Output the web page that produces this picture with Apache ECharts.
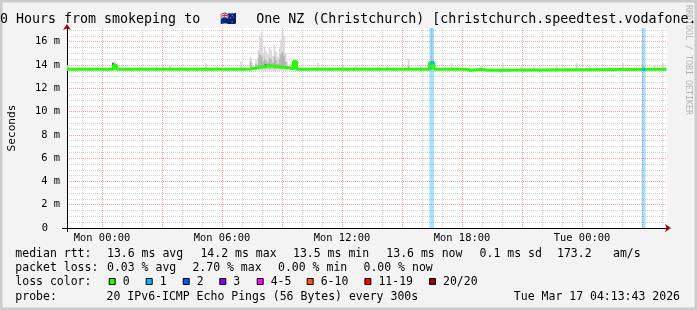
<!DOCTYPE html>
<html><head><meta charset="utf-8">
<script src="https://cdn.jsdelivr.net/npm/echarts@6/dist/echarts.min.js"></script>
<style>html,body{margin:0;padding:0;background:#f3f3f3}#c{width:697px;height:310px}</style>
</head><body><div id="c"></div><script>
// ---------- data (time in hours relative to Mon 00:00, values in ms) ----------
const STEP = 1 / 12;                 // one 300 s step
const T_START = -1.75, T_END = 28.25;
const Y_MAX = 17.18;

const xLabelValues = [0, 6, 12, 18, 24];
const xLabelTexts = ['Mon 00:00', 'Mon 06:00', 'Mon 12:00', 'Mon 18:00', 'Tue 00:00'];
const xMajorGrid = [0, 3, 6, 9, 12, 15, 18, 21, 24, 27];
const xMinorGrid = [-1, 1, 2, 4, 5, 7, 8, 10, 11, 13, 14, 16, 17, 19, 20, 22, 23, 25, 26, 28];
const yLabelValues = [0, 2, 4, 6, 8, 10, 12, 14, 16];
const yMinorGrid = [0.5, 1, 1.5, 2.5, 3, 3.5, 4.5, 5, 5.5, 6.5, 7, 7.5, 8.5, 9, 9.5, 10.5, 11, 11.5,
  12.5, 13, 13.5, 14.5, 15, 15.5, 16.5, 17];

// median rtt (step changes): [time, ms]
const medianPts = [[-1.75, 13.63], [0.57, 13.98], [0.73, 13.63], [7.05, 13.66], [7.4, 13.77], [7.75, 13.85],
  [8.05, 13.88], [8.18, 13.95], [8.3, 13.88], [8.75, 13.8], [9.05, 13.74], [9.4, 13.67], [9.57, 14.3],
  [9.73, 13.63], [16.37, 14.2], [16.6, 13.63], [18.25, 13.55], [18.4, 13.63], [19.08, 13.55],
  [19.25, 13.63], [28.23, 13.63]];

// median steps with packet loss: [t0, t1, ms, lost pings]
const lossMedian = [[16.42, 16.6, 14.2, 1], [27.0, 27.17, 13.63, 1]];
// loss background bars: [t0, t1]
const lossBars = [[16.37, 16.6], [26.99, 27.18]];

// smoke (ping spread) per step: [time, low, high]
const smokeLight = [[-1.7, 13.5, 14.0], [0.65, 13.5, 14.35], [2.7, 13.5, 13.86], [3.05, 13.5, 13.8],
  [3.4, 13.5, 13.94], [4.75, 13.5, 13.85], [5.2, 13.5, 14.15], [5.75, 13.5, 13.85], [6.95, 13.5, 14.3],
  [7.43, 13.5, 14.7], [7.5, 13.5, 14.2], [7.7, 13.5, 14.4], [7.83, 13.5, 15.3], [7.9, 13.5, 16.4],
  [7.98, 13.5, 16.8], [8.05, 13.5, 15.0], [8.13, 13.5, 15.6], [8.2, 13.5, 15.2], [8.3, 13.5, 14.9],
  [8.38, 13.5, 15.5], [8.45, 13.5, 15.3], [8.55, 13.5, 14.8], [8.63, 13.5, 15.7], [8.7, 13.5, 15.2],
  [8.8, 13.5, 14.7], [8.88, 13.5, 15.4], [8.95, 13.5, 16.2], [9.03, 13.5, 16.95], [9.1, 13.5, 16.5],
  [9.18, 13.5, 15.0], [9.25, 13.5, 14.3], [9.4, 13.5, 14.1], [9.65, 13.5, 14.45], [10.8, 13.5, 14.2],
  [12.05, 13.5, 13.94], [12.7, 13.5, 14.0], [13.8, 13.5, 13.86], [14.25, 13.5, 13.86], [15.33, 13.5, 14.5],
  [15.95, 13.5, 14.0], [16.48, 13.5, 17.18], [17.48, 13.5, 14.15], [18.38, 13.5, 13.86], [18.95, 13.5, 13.9],
  [20.05, 13.5, 14.15], [20.95, 13.5, 13.86], [21.6, 13.5, 13.86], [22.73, 13.5, 14.0], [23.73, 13.5, 14.15],
  [24.4, 13.5, 13.86], [25.33, 13.5, 13.86], [26.05, 13.5, 14.15], [27.08, 13.5, 14.0], [27.63, 13.5, 14.0],
  [28.05, 13.5, 14.15]];
const smokeMid = [[0.65, 13.6, 14.05], [7.43, 13.6, 14.3], [7.7, 13.6, 14.1], [7.83, 13.7, 14.6],
  [7.9, 13.7, 14.9], [7.98, 13.7, 14.7], [8.05, 13.7, 14.3], [8.13, 13.7, 14.5], [8.2, 13.7, 14.4],
  [8.3, 13.7, 14.2], [8.38, 13.7, 14.6], [8.45, 13.7, 14.5], [8.55, 13.7, 14.2], [8.63, 13.7, 14.7],
  [8.7, 13.7, 14.4], [8.8, 13.7, 14.1], [8.88, 13.7, 14.5], [8.95, 13.7, 14.9], [9.03, 13.7, 15.1],
  [9.1, 13.7, 14.8], [9.18, 13.7, 14.3], [9.65, 13.6, 14.1], [15.33, 13.6, 13.9], [16.48, 13.6, 14.4],
  [19.95, 13.38, 13.6], [20.1, 13.4, 13.6], [20.25, 13.42, 13.6], [20.4, 13.45, 13.6]];
const smokeDark = [[0.55, 13.63, 14.2], [8.18, 13.8, 14.06], [9.55, 13.6, 14.3], [16.4, 13.6, 14.25]];

// loss color legend
const lossLabels = ['0', '1', '2', '3', '4-5', '6-10', '11-19', '20/20'];
const lossColors = ['#26ff00', '#00b8ff', '#0059ff', '#7e00ff', '#ff00ff', '#ff5500', '#ff0000', '#a10000'];

// legend texts
const titlePre = '30 Hours from smokeping to ';
const titleFlag = '\u{1F1F3}\u{1F1FF}';
const titlePost = ' One NZ (Christchurch) [christchurch.speedtest.vodafone.co.nz]';
const rttStats = ['13.6 ms avg', '14.2 ms max', '13.5 ms min', '13.6 ms now', '0.1 ms sd', '173.2', 'am/s'];
const lossStats = ['0.03 % avg', '2.70 % max', '0.00 % min', '0.00 % now'];
const probeText = '20 IPv6-ICMP Echo Pings (56 Bytes) every 300s';
const stampText = 'Tue Mar 17 04:13:43 2026';

// ---------- layout ----------
const MONO = '"DejaVu Sans Mono", monospace';
const rttX = [107, 200.4, 293, 386.3, 479.6, 557, 613];
const lossX = [107, 192.4, 278, 363.5];
const boxX = [108.7, 145.7, 182.7, 219.3, 256.7, 306.7, 364.4, 429];
const rowY = [254, 268.2, 282.4, 296.6];

const chart = echarts.init(document.getElementById('c'), null, { renderer: 'canvas' });

function smokeSeries(data, color) {
  return {
    type: 'custom', xAxisIndex: 1, yAxisIndex: 1, clip: true, data: data, z: 2,
    renderItem: function (params, api) {
      const t = api.value(0), lo = api.value(1), hi = api.value(2);
      const p0 = api.coord([t - STEP / 2, hi]);
      const p1 = api.coord([t + STEP / 2, lo]);
      return { type: 'rect', shape: { x: p0[0], y: p0[1], width: p1[0] - p0[0], height: p1[1] - p0[1] },
        style: { fill: color } };
    }
  };
}

const txt = (x, y, s, extra) => Object.assign({ type: 'text', x: x, y: y, silent: true,
  style: Object.assign({ text: s, font: '11.5px ' + MONO, fill: '#000', verticalAlign: 'middle' }, extra || {}) });

const graphics = [
  { type: 'rect', shape: { x: 0, y: 0, width: 697, height: 310 }, style: { fill: 'none', stroke: '#cccccc', lineWidth: 5 }, silent: true },
  { type: 'text', x: 688, y: 60, rotation: -Math.PI / 2, silent: true,
    style: { text: 'RRDTOOL / TOBI OETIKER', font: '8.3px ' + MONO, fill: '#b4b4b4', align: 'center', verticalAlign: 'middle' } },
  txt(15.3, rowY[0], 'median rtt:'),
  txt(15.3, rowY[1], 'packet loss:'),
  txt(15.3, rowY[2], 'loss color:'),
  txt(15.3, rowY[3], 'probe:'),
  txt(106.6, rowY[3], probeText),
  txt(680, rowY[3], stampText, { align: 'right' })
];
rttStats.forEach((s, i) => graphics.push(txt(rttX[i], rowY[0], s)));
lossStats.forEach((s, i) => graphics.push(txt(lossX[i], rowY[1], s)));
lossLabels.forEach((s, i) => {
  graphics.push({ type: 'rect', silent: true, shape: { x: boxX[i] + 0.5, y: 278.5, width: 6, height: 6 },
    style: { fill: lossColors[i], stroke: '#000', lineWidth: 1 } });
  graphics.push(txt(boxX[i] + 14, rowY[2], s));
});

const hidden = { axisLabel: { show: false }, splitLine: { show: false } };

const option = {
  backgroundColor: '#f3f3f3',
  animation: false,
  title: { text: titlePre + '{f|' + titleFlag + '}' + titlePost, left: -8, top: 13, padding: 0,
    textStyle: { fontFamily: MONO, fontSize: 13.3, fontWeight: 'normal', color: '#000',
      rich: { f: { fontSize: 13.3, color: '#000', padding: [0, 11, 0, 12] } } } },
  grid: { left: 67, right: 30, top: 28, bottom: 82, show: true, backgroundColor: '#ffffff', borderWidth: 0,
    outerBoundsMode: 'none', containLabel: false },
  xAxis: [
    { type: 'value', min: T_START, max: T_END, position: 'bottom', z: 0,
      axisLine: { show: true, onZero: false, lineStyle: { color: '#a00000', width: 1 },
        symbol: ['none', 'arrow'], symbolSize: [6, 6], symbolOffset: [0, 4] },
      axisTick: { show: false, customValues: xMinorGrid }, axisLabel: { show: false },
      splitLine: { show: true, lineStyle: { color: '#d2d2d2', width: 1, type: [1, 1] } } },
    { type: 'value', min: T_START, max: T_END, position: 'bottom', z: 1,
      axisLine: { show: true, onZero: false, lineStyle: { color: '#000', width: 1 } },
      axisTick: { show: false, customValues: xMajorGrid },
      axisLabel: { customValues: xLabelValues, formatter: v => xLabelTexts[xLabelValues.indexOf(v)],
        margin: 5, fontFamily: MONO, fontSize: 10.4, color: '#000' },
      splitLine: { show: true, lineStyle: { color: '#f2a0a0', width: 1, type: [1, 1] } } },
    Object.assign({ type: 'value', min: T_START, max: T_END, position: 'bottom', z: 1,
      axisLine: { show: false, onZero: false },
      axisTick: { show: true, customValues: [T_START], length: 4, lineStyle: { color: '#000', width: 1 } } }, hidden)
  ],
  yAxis: [
    { type: 'value', min: 0, max: Y_MAX, position: 'left', z: 0,
      axisLine: { show: true, onZero: false, lineStyle: { color: '#a00000', width: 1 },
        symbol: ['none', 'arrow'], symbolSize: [6, 6], symbolOffset: [0, 4] },
      axisTick: { show: false, customValues: yMinorGrid }, axisLabel: { show: false },
      splitLine: { show: true, lineStyle: { color: '#d2d2d2', width: 1, type: [1, 1] } } },
    { type: 'value', min: 0, max: Y_MAX, position: 'left', z: 1,
      name: 'Seconds', nameLocation: 'middle', nameGap: 49, nameRotate: 90,
      nameTextStyle: { fontFamily: MONO, fontSize: 11.2, color: '#000' },
      axisLine: { show: true, onZero: false, lineStyle: { color: '#000', width: 1 } },
      axisTick: { show: false, customValues: yLabelValues },
      axisLabel: { customValues: yLabelValues, margin: 7, fontFamily: MONO, fontSize: 10.4, color: '#000',
        formatter: v => v === 0 ? '{z|0}' : v + ' m',
        rich: { z: { fontFamily: MONO, fontSize: 10.4, color: '#000', padding: [0, 12, 0, 0] } } },
      splitLine: { show: true, lineStyle: { color: '#f2a0a0', width: 1, type: [1, 1] } } },
    Object.assign({ type: 'value', min: 0, max: Y_MAX, position: 'left', z: 1,
      axisLine: { show: false, onZero: false },
      axisTick: { show: true, customValues: [0], length: 5, lineStyle: { color: '#000', width: 1 } } }, hidden)
  ],
  series: [
    smokeSeries(smokeLight, '#d6d6d6'),
    smokeSeries(smokeMid, '#b2b2b2'),
    smokeSeries(smokeDark, '#333333'),
    { type: 'custom', xAxisIndex: 1, yAxisIndex: 1, clip: true, data: lossBars, z: 3,
      renderItem: function (params, api) {
        const p0 = api.coord([api.value(0), Y_MAX]);
        const p1 = api.coord([api.value(1), 0]);
        return { type: 'rect', shape: { x: p0[0], y: p0[1], width: p1[0] - p0[0], height: p1[1] - p0[1] },
          style: { fill: 'rgba(0,168,240,0.33)' } };
      } },
    { type: 'line', xAxisIndex: 1, yAxisIndex: 1, data: medianPts, step: 'end', symbol: 'none', z: 4,
      lineStyle: { color: lossColors[0], width: 3 }, itemStyle: { color: lossColors[0] } },
    { type: 'custom', xAxisIndex: 1, yAxisIndex: 1, clip: true, data: lossMedian, z: 5,
      renderItem: function (params, api) {
        const p0 = api.coord([api.value(0), api.value(2)]);
        const p1 = api.coord([api.value(1), api.value(2)]);
        return { type: 'line', shape: { x1: p0[0], y1: p0[1], x2: p1[0], y2: p1[1] },
          style: { stroke: lossColors[api.value(3)], lineWidth: 3 } };
      } }
  ],
  graphic: graphics
};
chart.setOption(option);
</script></body></html>
